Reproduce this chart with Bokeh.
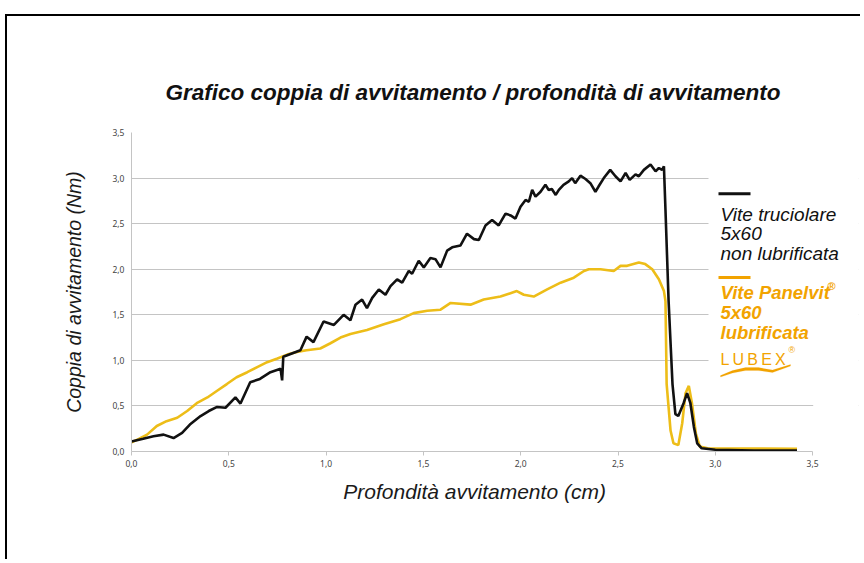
import math
from bokeh.plotting import figure
from bokeh.models import (Range1d, FixedTicker, Label, BoxAnnotation, PolyAnnotation)
from bokeh.embed import file_html
from bokeh.resources import INLINE

# ---- data ----
x_truciolare = [0.0, 0.06, 0.113, 0.165, 0.216, 0.26, 0.30, 0.355, 0.397, 0.44, 0.483, 0.534, 0.56,
                0.61, 0.66, 0.714, 0.766, 0.774, 0.78, 0.868, 0.90, 0.935, 0.987, 1.04, 1.09, 1.125,
                1.151, 1.185, 1.21, 1.237, 1.271, 1.305, 1.331, 1.365, 1.391, 1.425, 1.442, 1.476,
                1.502, 1.536, 1.562, 1.588, 1.622, 1.648, 1.69, 1.724, 1.76, 1.785, 1.819, 1.853,
                1.887, 1.922, 1.948, 1.973, 1.999, 2.025, 2.042, 2.059, 2.076, 2.102, 2.127, 2.144,
                2.16, 2.18, 2.196, 2.22, 2.247, 2.264, 2.28, 2.307, 2.333, 2.358, 2.384, 2.40,
                2.427, 2.46, 2.487, 2.513, 2.539, 2.56, 2.59, 2.607, 2.633, 2.667, 2.693, 2.71,
                2.727, 2.736, 2.744, 2.76, 2.78, 2.795, 2.81, 2.837, 2.855, 2.872, 2.89, 2.907,
                2.93, 3.0, 3.2, 3.42]
y_truciolare = [0.11, 0.14, 0.167, 0.185, 0.148, 0.204, 0.296, 0.389, 0.444, 0.489, 0.48, 0.593, 0.526,
                0.76, 0.796, 0.87, 0.907, 0.78, 1.04, 1.11, 1.26, 1.2, 1.426, 1.389, 1.5, 1.44,
                1.61, 1.667, 1.574, 1.685, 1.778, 1.72, 1.815, 1.889, 1.852, 1.981, 1.95, 2.093,
                2.02, 2.122, 2.11, 2.02, 2.204, 2.24, 2.26, 2.39, 2.33, 2.32, 2.48, 2.54,
                2.48, 2.61, 2.59, 2.556, 2.685, 2.76, 2.74, 2.87, 2.796, 2.85, 2.926, 2.87,
                2.88, 2.815, 2.87, 2.926, 2.963, 3.0, 2.944, 3.026, 2.99, 2.944, 2.85, 2.907,
                3.0, 3.09, 3.02, 2.963, 3.056, 2.98, 3.04, 3.02, 3.09, 3.148, 3.074, 3.11,
                3.09, 3.13, 2.65, 1.65, 0.74, 0.41, 0.39, 0.53, 0.64, 0.53, 0.27, 0.09,
                0.035, 0.02, 0.01, 0.01]

x_panelvit = [0.0, 0.04, 0.08, 0.13, 0.18, 0.235, 0.286, 0.34, 0.39, 0.44, 0.49, 0.54, 0.595, 0.646,
              0.697, 0.75, 0.80, 0.85, 0.90, 0.97, 1.02, 1.074, 1.125, 1.21, 1.297, 1.382, 1.45,
              1.52, 1.588, 1.64, 1.742, 1.81, 1.896, 1.98, 2.016, 2.067, 2.136, 2.205, 2.273,
              2.325, 2.35, 2.41, 2.478, 2.513, 2.547, 2.607, 2.64, 2.676, 2.71, 2.736, 2.744,
              2.75, 2.77, 2.785, 2.81, 2.83, 2.847, 2.864, 2.88, 2.90, 2.92, 2.96, 3.42]
y_panelvit = [0.10, 0.14, 0.185, 0.28, 0.333, 0.37, 0.444, 0.537, 0.593, 0.667, 0.74, 0.815, 0.87, 0.926,
              0.98, 1.02, 1.063, 1.093, 1.11, 1.13, 1.185, 1.25, 1.29, 1.333, 1.396, 1.452, 1.518,
              1.544, 1.556, 1.63, 1.611, 1.667, 1.70, 1.76, 1.72, 1.70, 1.778, 1.852, 1.907,
              1.98, 2.0, 2.0, 1.98, 2.037, 2.037, 2.074, 2.056, 2.0, 1.89, 1.76, 1.65,
              0.74, 0.23, 0.09, 0.07, 0.31, 0.64, 0.72, 0.53, 0.2, 0.055, 0.035, 0.03]

tick_values = [0.0, 0.5, 1.0, 1.5, 2.0, 2.5, 3.0, 3.5]
tick_labels = ["0,0", "0,5", "1,0", "1,5", "2,0", "2,5", "3,0", "3,5"]

title_text = "Grafico coppia di avvitamento / profondità di avvitamento"
x_label_text = "Profondità avvitamento (cm)"
y_label_text = "Coppia di avvitamento (Nm)"
legend_black = ["Vite truciolare", "5x60", "non lubrificata"]
legend_orange = ["Vite Panelvit", "5x60", "lubrificata"]

BLACK = "#111111"
YELLOW = "#EDBD18"
ORANGE = "#F2A300"
FONT = "Liberation Sans"
NBSP = "\u00a0"

# page-pixel -> data helpers for annotation placement
def dx(px):
    return (px - 131) / 194.6

def dy(py):
    return (451 - py) / 91.2

X_END = dx(858)

p = figure(width=855, height=545, output_backend="svg", toolbar_location=None,
           x_range=Range1d(0, X_END), y_range=Range1d(0, 3.5),
           min_border_left=124, min_border_right=4, min_border_top=116, min_border_bottom=110)
p.styles = {"border-left": "2px solid #000", "border-top": "2px solid #000",
            "margin-top": "14px", "margin-left": "5px"}
p.outline_line_color = None
p.background_fill_color = "white"
p.border_fill_color = "white"

# title
p.title.text = title_text
p.title.align = "left"
p.title.offset = 34
p.title.standoff = 55
p.title.text_font = FONT
p.title.text_font_size = "22.5px"
p.title.text_font_style = "bold italic"
p.title.text_color = "#111111"

# axes
for ax in (p.xaxis[0], p.yaxis[0]):
    ax.ticker = FixedTicker(ticks=tick_values)
    ax.major_label_overrides = {v: s for v, s in zip(tick_values, tick_labels)}
    ax.bounds = (0, 3.5)
    ax.axis_line_color = "#c4c4c4"
    ax.major_tick_line_color = "#c4c4c4"
    ax.minor_tick_line_color = None
    ax.major_label_text_font = "Noto Sans"
    ax.major_label_text_font_size = "8.5px"
    ax.major_label_text_color = "#444444"
    ax.axis_label_text_font = FONT
    ax.axis_label_text_font_style = "italic"
    ax.axis_label_text_color = "#1a1a1a"
p.xaxis.major_tick_in = 0
p.xaxis.major_tick_out = 4
p.xaxis.major_label_standoff = 4
p.xaxis.axis_label = x_label_text + NBSP * 7
p.xaxis.axis_label_text_font_size = "21px"
p.xaxis.axis_label_standoff = 10
p.yaxis.major_tick_in = 0
p.yaxis.major_tick_out = 0
p.yaxis.major_label_standoff = 7
p.yaxis.axis_label = y_label_text
p.yaxis.axis_label_text_font_size = "19.5px"
p.yaxis.axis_label_standoff = 24
p.xgrid.grid_line_color = None
p.ygrid.grid_line_color = "#c4c4c4"
p.ygrid.grid_line_width = 1

# series
p.line(x_panelvit, y_panelvit, line_color=YELLOW, line_width=2.6)
p.line(x_truciolare, y_truciolare, line_color=BLACK, line_width=2.6)

# white areas: right of the chart and behind the legend
p.add_layout(BoxAnnotation(left=3.5 + 0.003, fill_color="white", fill_alpha=1.0, line_color=None))
p.add_layout(BoxAnnotation(left=dx(708), bottom=0.6, top=3.3, fill_color="white", fill_alpha=1.0,
                           line_color=None))

# legend
p.add_layout(BoxAnnotation(left=dx(718), right=dx(750), bottom=dy(194.5), top=dy(191.5),
                           fill_color=BLACK, fill_alpha=1.0, line_color=None))
for txt, base in zip(legend_black, [214, 233, 253]):
    p.add_layout(Label(x=dx(720), y=dy(base), text=txt, text_font=FONT, text_font_size="19px",
                       text_font_style="italic", text_color="#111111", text_baseline="alphabetic"))
p.add_layout(BoxAnnotation(left=dx(718), right=dx(750), bottom=dy(278.5), top=dy(275.5),
                           fill_color=ORANGE, fill_alpha=1.0, line_color=None))
for txt, base in zip(legend_orange, [292, 312, 332]):
    p.add_layout(Label(x=dx(720), y=dy(base), text=txt, text_font=FONT, text_font_size="18.5px",
                       text_font_style="bold italic", text_color=ORANGE, text_baseline="alphabetic"))
p.add_layout(Label(x=dx(827), y=dy(285), text="®", text_font=FONT, text_font_size="11px",
                   text_font_style="bold", text_color=ORANGE, text_baseline="alphabetic"))
p.add_layout(Label(x=dx(720), y=dy(359), text="L\u2009U\u2009B\u2009E\u2009X", text_font=FONT,
                   text_font_size="16px", text_color=ORANGE, text_baseline="alphabetic"))
p.add_layout(Label(x=dx(788), y=dy(349), text="®", text_font=FONT, text_font_size="9px",
                   text_color=ORANGE, text_baseline="alphabetic"))
# LUBEX swoosh (logo decoration)
upper = [(720, 375), (732, 370), (745, 367), (758, 367), (772, 369.5), (790, 364)]
lower = [(790, 365.5), (772, 372), (758, 370), (745, 370), (732, 372.5), (720, 376.5)]
pts = upper + lower
p.add_layout(PolyAnnotation(xs=[dx(a) for a, b in pts], ys=[dy(b) for a, b in pts],
                            fill_color=ORANGE, fill_alpha=1.0, line_color=ORANGE, line_width=0.5))

open("out.html", "w").write(file_html(p, INLINE))
